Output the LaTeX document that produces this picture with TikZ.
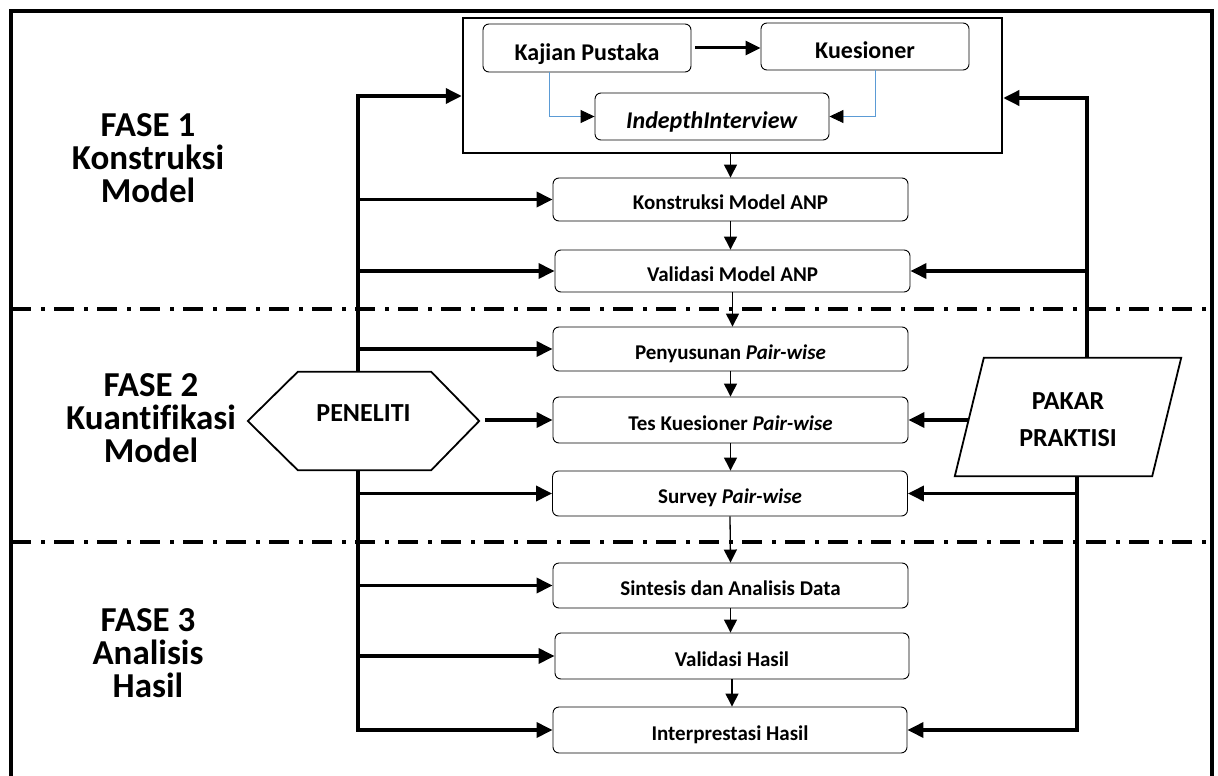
\documentclass[tikz,border=0pt]{standalone}
\usepackage{fontspec}
\setmainfont[Ligatures=NoCommon]{Carlito}
\usetikzlibrary{arrows.meta,calc}
\definecolor{linkblue}{RGB}{91,155,213}

\begin{document}
\begin{tikzpicture}[x=1pt,y=-1pt,
  stepbox/.style={draw, line width=0.9pt, rounded corners=6pt, inner sep=0pt,
    minimum width=355pt, text height=20pt, text depth=0pt,
    font=\fontsize{21}{24}\selectfont\bfseries},
  topbox/.style={draw, line width=0.9pt, rounded corners=6pt, inner sep=0pt,
    text height=24pt, text depth=0pt,
    font=\fontsize{24}{27}\selectfont\bfseries},
  heavy/.style={line width=3.5pt},
  heavyarrow/.style={line width=3.5pt, -{Triangle[length=16pt,width=15pt]}},
  lightarrow/.style={line width=1.3pt, -{Triangle[length=13pt,width=13pt]}},
  bluelink/.style={draw=linkblue, line width=0.9pt, -{Triangle[length=14pt,width=13pt,color=black]}},
  phase/.style={align=center, font=\fontsize{35}{33}\selectfont\bfseries},
  divider/.style={line width=3.5pt, dash pattern=on 20pt off 10pt on 4pt off 9pt},
  outline/.style={line width=1.8pt},
]
\useasboundingbox (0,0) rectangle (1218,776);

% outer frame (open at the bottom)
\draw[line width=3.5pt] (11,790) -- (11,11) -- (1212,11) -- (1212,790);

% phase dividers
\coordinate (d1l) at (11,309);  \coordinate (d1r) at (1212,309);
\coordinate (d2l) at (11,542);  \coordinate (d2r) at (1212,542);
\draw[divider] (d1l) -- (d1r);
\draw[divider] (d2l) -- (d2r);

% phase labels
\node[phase] (fase1) at (148,158) {FASE 1\\Konstruksi\\Model};
\node[phase] (fase2) at (151,418) {FASE 2\\Kuantifikasi\\Model};
\node[phase] (fase3) at (148,653) {FASE 3\\Analisis\\Hasil};

% first stage group
\node[draw, line width=2.5pt, minimum width=539pt, minimum height=135pt, inner sep=0pt] (grp) at (732.5,85.5) {};
\node[topbox, minimum width=208pt, minimum height=48pt] (kajian) at (587,48) {Kajian Pustaka};
\node[topbox, minimum width=208pt, minimum height=47pt] (kues) at (865,46.5) {Kuesioner};
\node[topbox, minimum width=234pt, minimum height=47pt] (indepth) at (712,116.5) {\textit{IndepthInterview}};

\draw[line width=3pt, -{Triangle[length=15pt,width=14pt]}] ($(kajian.east)+(4,0)$) -- (kajian.east -| kues.west);
\draw[bluelink] ($(kajian.south)+(-38,0)$) |- (indepth.west);
\draw[bluelink] ($(kues.south)+(10,0)$) |- (indepth.east);

% main sequence
\node[stepbox, minimum height=43pt] (konst) at (730.5,199.5) {Konstruksi Model ANP};
\node[stepbox, minimum height=42pt] (valm) at (732.5,271) {Validasi Model ANP};
\node[stepbox, minimum height=44pt] (peny) at (730.5,349) {Penyusunan \textit{Pair-wise}};
\node[stepbox, minimum height=46pt] (tes) at (730.5,420) {Tes Kuesioner \textit{Pair-wise}};
\node[stepbox, minimum height=45pt] (surv) at (730,493.5) {Survey \textit{Pair-wise}};
\node[stepbox, minimum height=45pt] (sint) at (730.5,585.5) {Sintesis dan Analisis Data};
\node[stepbox, minimum height=46pt, minimum width=354pt] (valh) at (732,656) {Validasi Hasil};
\node[stepbox, minimum height=46pt, minimum width=354pt] (interp) at (730,730) {Interprestasi Hasil};

\draw[lightarrow] (grp.south -| konst.north) -- (konst.north);
\draw[lightarrow] (konst.south) -- (konst.south |- valm.north);
\draw[lightarrow] (valm.south) -- (valm.south |- peny.north);
\draw[lightarrow] (peny.south) -- (peny.south |- tes.north);
\draw[lightarrow] (tes.south) -- (tes.south |- surv.north);
\draw[lightarrow] (surv.south) -- (sint.north);
\draw[lightarrow] (sint.south) -- (sint.south |- valh.north);
\draw[lightarrow] (valh.south) -- (valh.south |- interp.north);

% researcher
\node[inner sep=0pt, minimum width=231pt, minimum height=98pt, text height=0pt, text depth=0pt,
  font=\fontsize{26}{30}\selectfont\bfseries] (peneliti) at (363.5,421) {PENELITI};
\draw[outline] (peneliti.west) -- ($(peneliti.north west)+(50,0)$) -- ($(peneliti.north east)+(-48,0)$)
  -- (peneliti.east) -- ($(peneliti.south east)+(-48,0)$) -- ($(peneliti.south west)+(50,0)$) -- cycle;

% practitioners
\node[inner sep=0pt, minimum width=226pt, minimum height=118pt] (pakar) at (1068,417) {};
\draw[outline] (pakar.south west) -- ($(pakar.north west)+(29,0)$) -- (pakar.north east)
  -- ($(pakar.south east)+(-29,0)$) -- cycle;
\node[align=center, inner sep=0pt, font=\fontsize{26}{37}\selectfont\bfseries] (pakartext)
  at ($(pakar.center)+(0,3)$) {PAKAR\\PRAKTISI};

% researcher feedback lines
\coordinate (lx) at (358,0);
\coordinate (lt) at (358,96);
\draw[heavyarrow] (lt |- peneliti.north) -- (lt) -- (lt -| grp.west);
\draw[heavyarrow] (lx |- peneliti.south) -- (interp.west -| lx) -- (interp.west);
\foreach \b in {konst,valm,peny,surv,sint,valh}
  \draw[heavyarrow] (\b.west -| lx) -- (\b.west);
\draw[heavyarrow] ($(tes.west -| peneliti.east)+(6,0)$) -- (tes.west);

% practitioner feedback lines
\coordinate (rt) at (1087,98);
\coordinate (rx) at (1077,0);
\draw[heavyarrow] (rt |- pakar.north) -- (rt) -- (rt -| grp.east);
\draw[heavyarrow] (valm.east -| rt) -- (valm.east);
\draw[heavyarrow] (rx |- pakar.south) -- (interp.east -| rx) -- (interp.east);
\draw[heavyarrow] (surv.east -| rx) -- (surv.east);
\draw[heavyarrow] ($(tes.east -| pakar.west)+(13,0)$) -- (tes.east);
\end{tikzpicture}
\end{document}
